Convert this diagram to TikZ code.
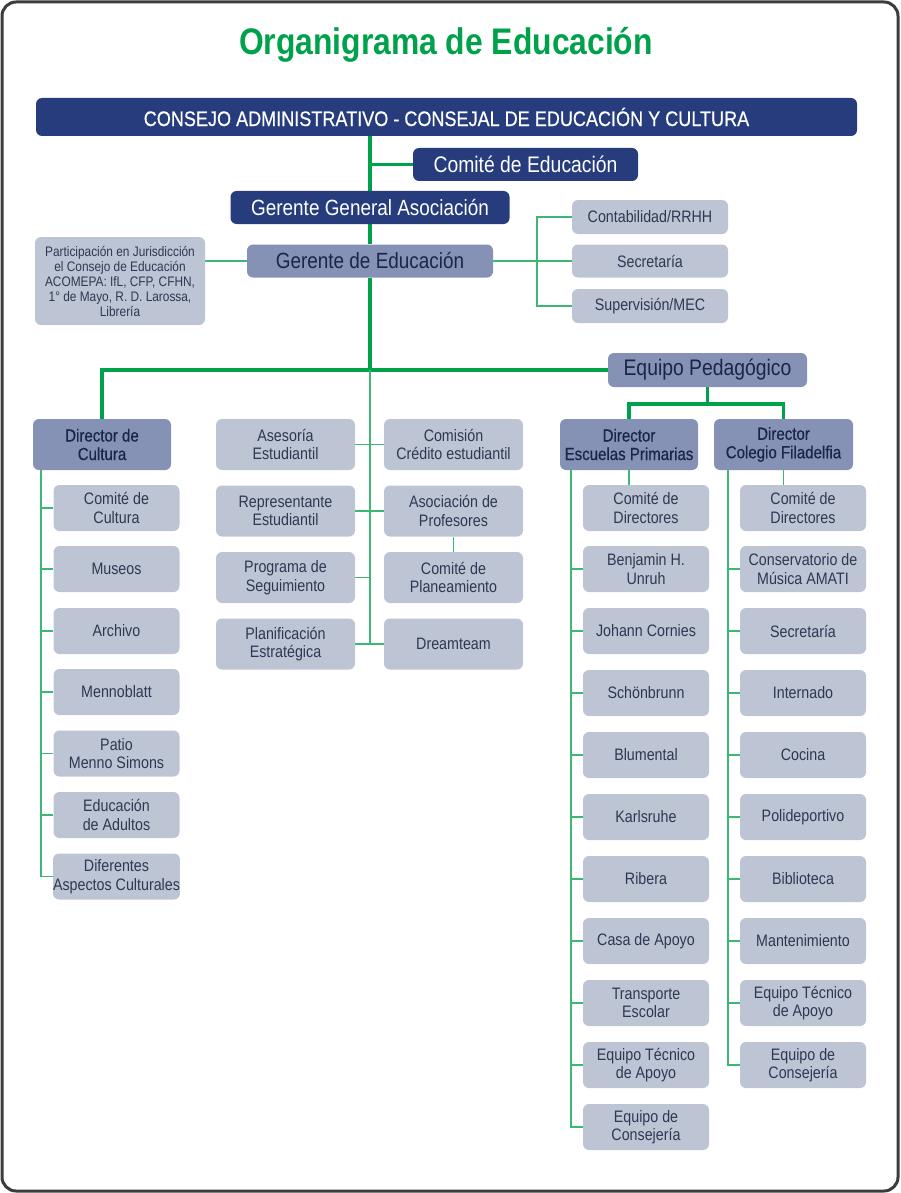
\documentclass[tikz,border=0pt]{standalone}
\usepackage{fontspec}
\setmainfont{Liberation Sans}[FakeStretch=0.86]
\newfontfamily\medfont{Liberation Sans}[FakeStretch=0.86, FakeBold=0.5]
\usetikzlibrary{calc}
\pgfdeclarelayer{bg}
\pgfsetlayers{bg,main}
\definecolor{navyc}{HTML}{263C7C}
\definecolor{midc}{HTML}{8591B5}
\definecolor{lightc}{HTML}{BDC4D4}
\definecolor{midtext}{HTML}{1B2548}
\definecolor{lighttext}{HTML}{2F3852}
\definecolor{greenc}{HTML}{00A14B}
\definecolor{greenl}{HTML}{3DB874}
\definecolor{framec}{HTML}{3C3C3C}
\tikzset{
  box/.style={rounded corners=6pt, inner sep=0pt, align=center},
  navybox/.style={box, fill=navyc, text=white},
  midbox/.style={box, fill=midc, text=midtext},
  lightbox/.style={box, fill=lightc, text=lighttext, font=\fontsize{16.6}{18.5}\selectfont},
  dirbox/.style={midbox, minimum width=138pt, minimum height=51pt, font=\medfont\fontsize{17.5}{18.5}\selectfont},
  leaf/.style={lightbox, minimum width=126pt, minimum height=46pt},
  midleaf/.style={lightbox, minimum width=139pt, minimum height=51pt},
  sideleaf/.style={lightbox, minimum width=156pt, minimum height=34pt},
  thickline/.style={draw=greenc, line width=3.2pt},
  thinline/.style={draw=greenl, line width=1.8pt},
}
\begin{document}
\begin{tikzpicture}[x=1pt,y=-1pt]
\useasboundingbox (0,0) rectangle (900,1193);
\draw[framec, line width=3pt, rounded corners=14pt] (2,2) rectangle (898,1191);

\node[font=\fontsize{37}{40}\selectfont\bfseries, text=greenc] (title) at (446,45) {Organigrama de Educación};

\node[navybox, minimum width=821pt, minimum height=38pt, font=\medfont\fontsize{21}{24}\selectfont] (consejo) at (446.5,117) {CONSEJO ADMINISTRATIVO - CONSEJAL DE EDUCACIÓN Y CULTURA};
\node[navybox, minimum width=225pt, minimum height=33pt, font=\fontsize{22.5}{24}\selectfont] (comite) at (525.5,164.5) {Comité de Educación};
\node[navybox, minimum width=279pt, minimum height=33pt, font=\fontsize{22}{24}\selectfont] (ggen) at (370,207.5) {Gerente General Asociación};
\node[midbox, minimum width=246pt, minimum height=33pt, font=\fontsize{22}{24}\selectfont] (gedu) at (370,261) {Gerente de Educación};
\node[lightbox, minimum width=170pt, minimum height=88pt, font=\fontsize{13.8}{15}\selectfont] (part) at (120,281) {Participación en Jurisdicción\\el Consejo de Educación\\ACOMEPA: IfL, CFP, CFHN,\\1° de Mayo, R. D. Larossa,\\Librería};

\node[sideleaf] (cont) at (650,217) {Contabilidad/RRHH};
\node[sideleaf, minimum height=33pt] (secr) at (650,261) {Secretaría};
\node[sideleaf] (sup) at (650,306) {Supervisión/MEC};

\node[midbox, minimum width=199pt, minimum height=34pt, font=\fontsize{22.5}{24}\selectfont] (equipo) at (707.5,370) {Equipo Pedagógico};

% directors
\node[dirbox] (dcult) at (102,444.5) {Director de\\Cultura};
\node[dirbox] (desc) at (629,444.5) {Director\\Escuelas Primarias};
\node[dirbox, minimum width=139pt] (dfil) at (783.5,444.5) {Director\\Colegio Filadelfia};

% middle group
\node[midleaf] (ases) at (285.5,444.5) {Asesoría\\Estudiantil};
\node[midleaf] (repr) at (285.5,511) {Representante\\Estudiantil};
\node[midleaf] (prog) at (285.5,577.5) {Programa de\\Seguimiento};
\node[midleaf] (plan) at (285.5,644) {Planificación\\Estratégica};
\node[midleaf] (comis) at (453.5,444.5) {Comisión\\Crédito estudiantil};
\node[midleaf] (asoc) at (453.5,511) {Asociación de\\Profesores};
\node[midleaf] (cplan) at (453.5,577.5) {Comité de\\Planeamiento};
\node[midleaf] (dream) at (453.5,644) {Dreamteam};

% cultura
\node[leaf] (c1) at (116.5,508) {Comité de\\Cultura};
\node[leaf] (c2) at (116.5,569) {Museos};
\node[leaf] (c3) at (116.5,631) {Archivo};
\node[leaf] (c4) at (116.5,692) {Mennoblatt};
\node[leaf] (c5) at (116.5,753.5) {Patio\\Menno Simons};
\node[leaf] (c6) at (116.5,815) {Educación\\de Adultos};
\node[leaf] (c7) at (116.5,876.5) {Diferentes\\Aspectos Culturales};

% escuelas
\node[leaf] (e1) at (646,508) {Comité de\\Directores};
\node[leaf] (e2) at (646,569) {Benjamin H.\\Unruh};
\node[leaf] (e3) at (646,631) {Johann Cornies};
\node[leaf] (e4) at (646,693) {Schönbrunn};
\node[leaf] (e5) at (646,755) {Blumental};
\node[leaf] (e6) at (646,817) {Karlsruhe};
\node[leaf] (e7) at (646,879) {Ribera};
\node[leaf] (e8) at (646,941) {Casa de Apoyo};
\node[leaf] (e9) at (646,1003) {Transporte\\Escolar};
\node[leaf] (e10) at (646,1065) {Equipo Técnico\\de Apoyo};
\node[leaf] (e11) at (646,1127) {Equipo de\\Consejería};

% filadelfia
\node[leaf] (f1) at (803,508) {Comité de\\Directores};
\node[leaf] (f2) at (803,569) {Conservatorio de\\Música AMATI};
\node[leaf] (f3) at (803,631) {Secretaría};
\node[leaf] (f4) at (803,693) {Internado};
\node[leaf] (f5) at (803,755) {Cocina};
\node[leaf] (f6) at (803,817) {Polideportivo};
\node[leaf] (f7) at (803,879) {Biblioteca};
\node[leaf] (f8) at (803,941) {Mantenimiento};
\node[leaf] (f9) at (803,1003) {Equipo Técnico\\de Apoyo};
\node[leaf] (f10) at (803,1065) {Equipo de\\Consejería};

\coordinate (cv) at (41,470);
\coordinate (ev) at (571,470);
\coordinate (fv) at (728,470);
\coordinate (ej) at (707.5,404);

\begin{pgfonlayer}{bg}
  % thick trunk
  \draw[thickline] (consejo.south -| gedu.north) -- (gedu.north);
  \draw[thickline] (comite.west) -- (comite.west -| gedu.north);
  \draw[thickline] (gedu.south) -- (gedu.south |- equipo.west);
  \draw[thickline] (equipo.west) -| (dcult.north);
  \draw[thickline] (equipo.south) -- (ej);
  \draw[thickline] (desc.north) |- (ej) -| (dfil.north);
  % thin side
  \draw[thinline] (gedu.west) -- (gedu.west -| part.east);
  \draw[thinline] (gedu.east) -- (secr.west);
  \draw[thinline] (cont.west) -| ([xshift=-35pt]sup.west) -- (sup.west);
  % middle group
  \draw[thinline] (gedu.south |- equipo.west) -- (gedu.south |- plan.east);
  \draw[thinline] (ases.east) -- (comis.west);
  \draw[thinline] (repr.east) -- (asoc.west);
  \draw[thinline] (prog.east) -- (prog.east -| gedu.south);
  \draw[thinline] (plan.east) -- (dream.west);
  \draw[thinline] (asoc.south) -- (cplan.north);
  % cultura
  \draw[thinline] (cv) |- (c7.west);
  \foreach \n in {c1,c2,c3,c4,c5,c6}{\draw[thinline] (\n.west) -- (\n.west -| cv);}
  % escuelas
  \draw[thinline] (desc.south) -- (desc.south |- e1.north);
  \draw[thinline] (ev) |- (e11.west);
  \foreach \n in {e2,e3,e4,e5,e6,e7,e8,e9,e10}{\draw[thinline] (\n.west) -- (\n.west -| ev);}
  % filadelfia
  \draw[thinline] (dfil.south) -- (dfil.south |- f1.north);
  \draw[thinline] (fv) |- (f10.west);
  \foreach \n in {f2,f3,f4,f5,f6,f7,f8,f9}{\draw[thinline] (\n.west) -- (\n.west -| fv);}
\end{pgfonlayer}
\end{tikzpicture}
\end{document}
